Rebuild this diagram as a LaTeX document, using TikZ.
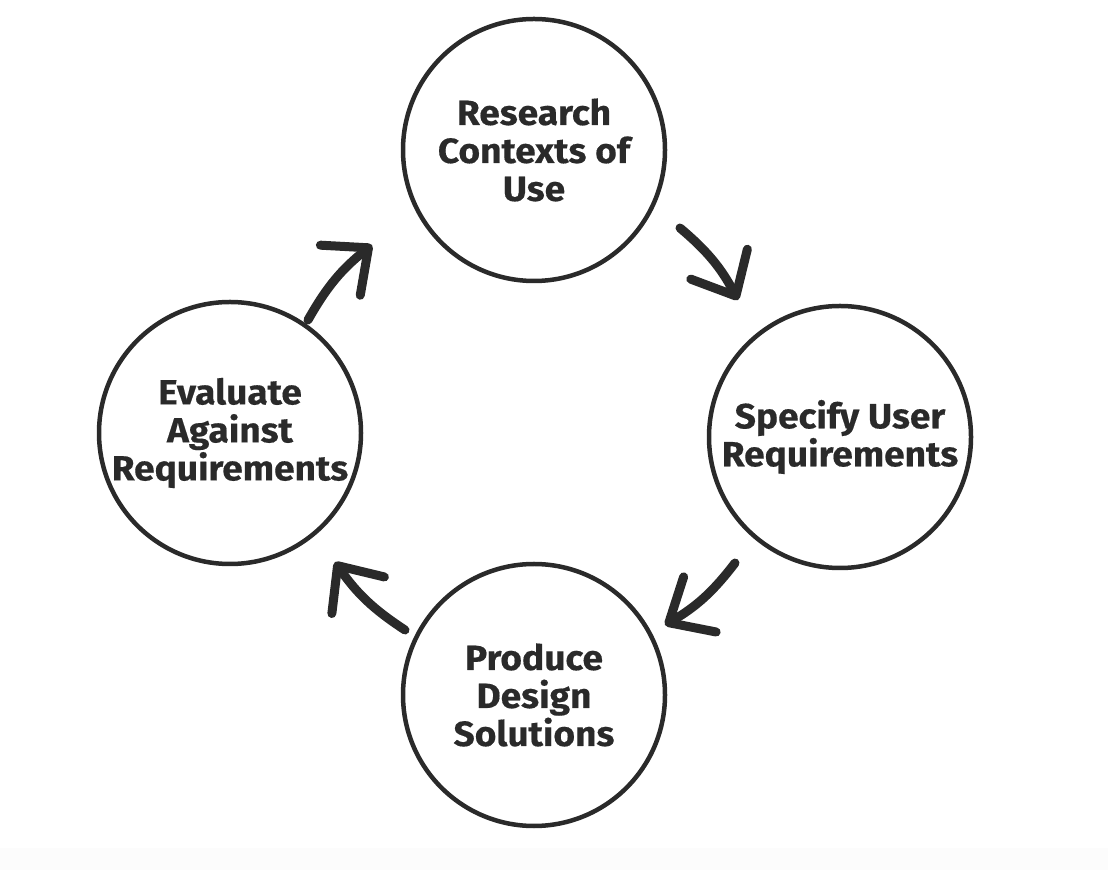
\documentclass[tikz,border=0pt]{standalone}
\usepackage{fontspec}
\setmainfont{Fira Sans}[BoldFeatures={FakeStretch=1.06,FakeBold=0.4}]
\usepackage{xcolor}
\usetikzlibrary{arrows.meta,positioning}
\definecolor{ucink}{HTML}{2A2A2A}
\definecolor{ucband}{HTML}{FCFCFC}
\tikzset{
  stage/.style={circle, draw=ucink, line width=4.5pt, minimum size=262pt,
                inner sep=0pt, align=center, text=ucink,
                font=\fontsize{35}{38}\selectfont\bfseries},
  cyc/.style={-{Straight Barb[length=36pt,width=64pt,round]}, draw=ucink,
              line width=9pt, line cap=round, line join=round, bend left=11},
}

\begin{document}
\begin{tikzpicture}[x=1pt,y=1pt]
\useasboundingbox (0,0) rectangle (1108,870);
\fill[ucband] (0,0) rectangle (1108,22);

% the four stages
\node[stage] (research) at (534,720) {Research\\Contexts of\\Use};
\node[stage] (specify) at (840,433) {Specify User\\Requirements};
\node[stage] (produce) at (534,175) {Produce\\Design\\Solutions};
\node[stage] (evaluate) at (230,437) {Evaluate\\Against\\Requirements};

% arrow ends between the stages
\coordinate (rs-a) at (680,642);
\coordinate (rs-b) at (738,570);
\coordinate (sp-a) at (735,307);
\coordinate (sp-b) at (665,245);
\coordinate (pe-a) at (405,240);
\coordinate (pe-b) at (335,308);
\coordinate (er-a) at (308,550);
\coordinate (er-b) at (372,625);

% clockwise cycle
\draw[cyc] (rs-a) to (rs-b);
\draw[cyc] (sp-a) to (sp-b);
\draw[cyc] (pe-a) to (pe-b);
\draw[cyc] (er-a) to (er-b);
\end{tikzpicture}
\end{document}
